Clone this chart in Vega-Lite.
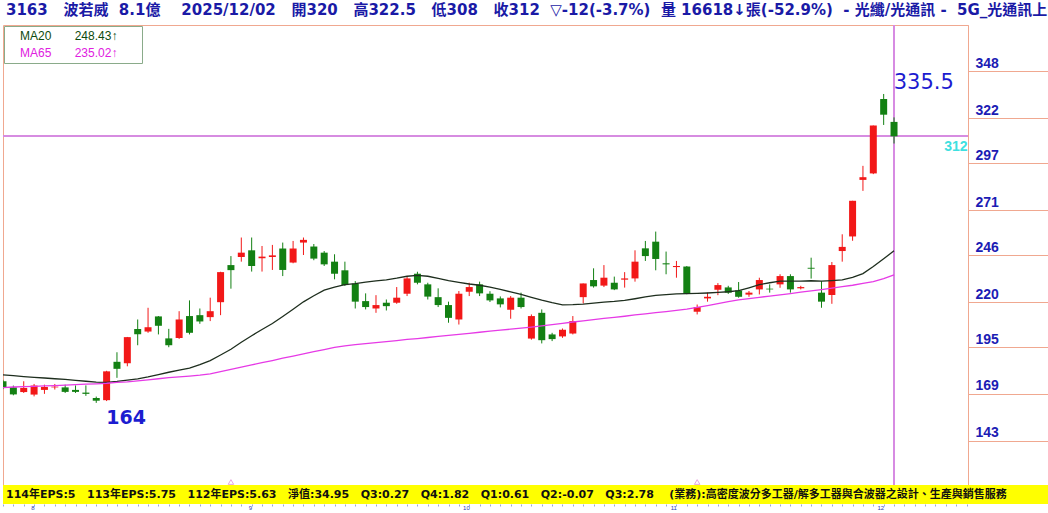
{
  "$schema": "https://vega.github.io/schema/vega-lite/v6.json",
  "background": "white",
  "padding": {"left": 2, "top": 3, "right": 0, "bottom": 0},
  "spacing": 0,
  "bounds": "flush",
  "title": {
    "text": "3163\u00a0\u00a0 波若威\u00a0 8.1億\u00a0\u00a0\u00a0 2025/12/02\u00a0\u00a0 開320\u00a0\u00a0 高322.5\u00a0\u00a0 低308\u00a0\u00a0 收312\u00a0 ▽-12(-3.7%)\u00a0 量\u00a016618↓張(-52.9%)\u00a0 -\u00a0光纖/光通訊\u00a0-\u00a0 5G_光通訊上",
    "anchor": "start",
    "frame": "group",
    "font": "DejaVu Sans, Noto Sans CJK TC",
    "fontSize": 15,
    "fontWeight": "bold",
    "color": "#1a1aa6",
    "offset": 6,
    "dx": 3,
    "limit": 1043
  },
  "datasets": {
    "k": [
      {"d":"2025-07-29","o":176.0,"h":176.8,"l":171.6,"c":172.3,"MA20":179.6,"MA65":172.5},
      {"d":"2025-07-30","o":172.6,"h":173.6,"l":168.2,"c":168.7,"MA20":179.1,"MA65":172.8},
      {"d":"2025-07-31","o":170.0,"h":176.0,"l":169.5,"c":172.3,"MA20":178.6,"MA65":173.0},
      {"d":"2025-08-01","o":168.6,"h":174.5,"l":167.6,"c":173.6,"MA20":178.2,"MA65":173.2},
      {"d":"2025-08-04","o":171.2,"h":174.1,"l":169.0,"c":172.8,"MA20":177.8,"MA65":173.4},
      {"d":"2025-08-05","o":172.6,"h":174.5,"l":171.4,"c":173.0,"MA20":177.4,"MA65":173.6},
      {"d":"2025-08-06","o":172.6,"h":174.1,"l":169.5,"c":170.1,"MA20":177.0,"MA65":173.9},
      {"d":"2025-08-07","o":171.2,"h":173.7,"l":169.5,"c":170.1,"MA20":176.5,"MA65":174.1},
      {"d":"2025-08-08","o":169.7,"h":173.7,"l":167.9,"c":169.0,"MA20":176.0,"MA65":174.4},
      {"d":"2025-08-11","o":166.7,"h":167.5,"l":164.0,"c":165.2,"MA20":175.5,"MA65":174.6},
      {"d":"2025-08-12","o":165.5,"h":181.8,"l":165.0,"c":181.5,"MA20":175.4,"MA65":174.9},
      {"d":"2025-08-13","o":186.8,"h":192.1,"l":177.9,"c":182.9,"MA20":175.9,"MA65":175.4},
      {"d":"2025-08-14","o":186.0,"h":200.6,"l":184.3,"c":200.5,"MA20":176.6,"MA65":175.7},
      {"d":"2025-08-15","o":205.0,"h":210.3,"l":196.0,"c":202.1,"MA20":177.3,"MA65":176.2},
      {"d":"2025-08-18","o":203.6,"h":216.8,"l":202.9,"c":206.0,"MA20":178.4,"MA65":176.8},
      {"d":"2025-08-19","o":212.0,"h":212.2,"l":202.0,"c":206.8,"MA20":179.7,"MA65":177.4},
      {"d":"2025-08-20","o":199.8,"h":205.1,"l":194.9,"c":196.0,"MA20":181.0,"MA65":178.0},
      {"d":"2025-08-21","o":200.0,"h":214.9,"l":199.5,"c":210.3,"MA20":182.2,"MA65":178.4},
      {"d":"2025-08-22","o":212.2,"h":220.9,"l":202.0,"c":202.9,"MA20":183.3,"MA65":178.9},
      {"d":"2025-08-25","o":212.7,"h":216.4,"l":207.9,"c":209.2,"MA20":185.2,"MA65":179.4},
      {"d":"2025-08-26","o":211.6,"h":222.4,"l":209.4,"c":214.9,"MA20":187.5,"MA65":180.1},
      {"d":"2025-08-27","o":219.9,"h":236.8,"l":212.7,"c":236.6,"MA20":190.6,"MA65":181.4},
      {"d":"2025-08-28","o":240.5,"h":245.5,"l":227.4,"c":237.7,"MA20":193.8,"MA65":182.6},
      {"d":"2025-08-29","o":245.0,"h":255.8,"l":242.4,"c":247.4,"MA20":197.7,"MA65":183.8},
      {"d":"2025-09-01","o":248.7,"h":255.8,"l":236.9,"c":240.0,"MA20":201.3,"MA65":185.1},
      {"d":"2025-09-02","o":244.3,"h":251.1,"l":236.9,"c":245.2,"MA20":204.7,"MA65":186.3},
      {"d":"2025-09-03","o":245.0,"h":251.7,"l":237.8,"c":245.9,"MA20":208.1,"MA65":187.5},
      {"d":"2025-09-04","o":249.7,"h":253.0,"l":234.4,"c":237.8,"MA20":212.0,"MA65":188.8},
      {"d":"2025-09-05","o":241.9,"h":253.9,"l":241.5,"c":249.7,"MA20":216.0,"MA65":190.0},
      {"d":"2025-09-08","o":253.0,"h":255.8,"l":246.1,"c":254.5,"MA20":220.1,"MA65":191.2},
      {"d":"2025-09-09","o":250.8,"h":252.2,"l":243.2,"c":244.1,"MA20":223.5,"MA65":192.4},
      {"d":"2025-09-10","o":247.4,"h":248.3,"l":240.0,"c":240.9,"MA20":226.6,"MA65":193.6},
      {"d":"2025-09-11","o":242.4,"h":246.5,"l":232.6,"c":235.7,"MA20":228.3,"MA65":194.8},
      {"d":"2025-09-12","o":237.6,"h":242.4,"l":228.9,"c":229.4,"MA20":229.6,"MA65":195.7},
      {"d":"2025-09-15","o":230.2,"h":231.6,"l":216.4,"c":220.2,"MA20":230.2,"MA65":196.3},
      {"d":"2025-09-16","o":220.5,"h":224.8,"l":215.9,"c":217.2,"MA20":231.0,"MA65":196.9},
      {"d":"2025-09-17","o":216.4,"h":223.8,"l":214.0,"c":218.3,"MA20":231.7,"MA65":197.5},
      {"d":"2025-09-18","o":219.6,"h":221.4,"l":215.3,"c":217.7,"MA20":232.3,"MA65":198.0},
      {"d":"2025-09-19","o":219.6,"h":228.3,"l":219.0,"c":222.4,"MA20":233.2,"MA65":198.6},
      {"d":"2025-09-22","o":224.6,"h":234.4,"l":223.3,"c":233.1,"MA20":234.3,"MA65":199.2},
      {"d":"2025-09-23","o":235.7,"h":236.8,"l":229.8,"c":230.7,"MA20":234.8,"MA65":199.7},
      {"d":"2025-09-24","o":229.8,"h":230.7,"l":221.4,"c":223.0,"MA20":234.3,"MA65":200.3},
      {"d":"2025-09-25","o":222.7,"h":227.6,"l":217.2,"c":218.3,"MA20":233.1,"MA65":200.9},
      {"d":"2025-09-26","o":218.3,"h":220.2,"l":208.5,"c":211.2,"MA20":231.9,"MA65":201.5},
      {"d":"2025-09-30","o":210.3,"h":226.1,"l":207.5,"c":224.6,"MA20":230.9,"MA65":202.0},
      {"d":"2025-10-01","o":225.7,"h":230.7,"l":223.3,"c":228.3,"MA20":230.0,"MA65":202.6},
      {"d":"2025-10-02","o":229.8,"h":231.3,"l":223.3,"c":224.8,"MA20":229.3,"MA65":203.2},
      {"d":"2025-10-03","o":224.6,"h":226.0,"l":220.0,"c":220.9,"MA20":228.3,"MA65":203.8},
      {"d":"2025-10-07","o":222.0,"h":223.1,"l":217.0,"c":218.7,"MA20":227.0,"MA65":204.4},
      {"d":"2025-10-08","o":215.7,"h":223.3,"l":210.7,"c":222.4,"MA20":225.6,"MA65":204.9},
      {"d":"2025-10-09","o":222.4,"h":225.2,"l":216.4,"c":217.2,"MA20":224.2,"MA65":205.5},
      {"d":"2025-10-13","o":199.7,"h":213.1,"l":199.1,"c":212.2,"MA20":222.6,"MA65":206.1},
      {"d":"2025-10-14","o":214.0,"h":215.9,"l":197.0,"c":198.8,"MA20":221.0,"MA65":206.7},
      {"d":"2025-10-15","o":202.0,"h":202.9,"l":198.3,"c":199.4,"MA20":219.6,"MA65":207.4},
      {"d":"2025-10-16","o":200.9,"h":205.3,"l":200.1,"c":204.6,"MA20":218.4,"MA65":208.1},
      {"d":"2025-10-17","o":202.5,"h":212.2,"l":202.0,"c":209.4,"MA20":218.5,"MA65":208.9},
      {"d":"2025-10-20","o":222.7,"h":230.3,"l":219.2,"c":230.3,"MA20":218.8,"MA65":209.5},
      {"d":"2025-10-21","o":232.2,"h":238.7,"l":228.0,"c":228.7,"MA20":219.4,"MA65":210.2},
      {"d":"2025-10-22","o":229.1,"h":240.5,"l":228.3,"c":233.5,"MA20":219.9,"MA65":210.9},
      {"d":"2025-10-23","o":230.7,"h":234.1,"l":226.6,"c":227.0,"MA20":220.3,"MA65":211.5},
      {"d":"2025-10-27","o":232.4,"h":236.6,"l":228.0,"c":233.1,"MA20":220.9,"MA65":212.1},
      {"d":"2025-10-28","o":233.1,"h":248.7,"l":231.3,"c":242.4,"MA20":221.8,"MA65":212.8},
      {"d":"2025-10-29","o":249.8,"h":253.9,"l":242.8,"c":245.5,"MA20":222.8,"MA65":213.4},
      {"d":"2025-10-30","o":253.5,"h":259.1,"l":237.6,"c":243.9,"MA20":223.7,"MA65":214.1},
      {"d":"2025-10-31","o":241.5,"h":248.0,"l":235.4,"c":240.9,"MA20":224.1,"MA65":214.7},
      {"d":"2025-11-03","o":239.4,"h":242.8,"l":233.5,"c":240.0,"MA20":224.5,"MA65":215.4},
      {"d":"2025-11-04","o":239.7,"h":240.0,"l":224.3,"c":224.6,"MA20":224.7,"MA65":216.0},
      {"d":"2025-11-05","o":214.6,"h":218.6,"l":213.1,"c":217.2,"MA20":224.8,"MA65":217.0},
      {"d":"2025-11-06","o":222.0,"h":225.2,"l":220.2,"c":222.9,"MA20":225.0,"MA65":218.0},
      {"d":"2025-11-07","o":226.8,"h":230.5,"l":223.8,"c":229.4,"MA20":225.3,"MA65":219.1},
      {"d":"2025-11-10","o":228.1,"h":229.0,"l":224.5,"c":225.2,"MA20":225.7,"MA65":220.2},
      {"d":"2025-11-11","o":226.4,"h":231.1,"l":222.4,"c":222.9,"MA20":226.3,"MA65":221.2},
      {"d":"2025-11-12","o":224.1,"h":226.1,"l":222.9,"c":225.2,"MA20":227.9,"MA65":221.9},
      {"d":"2025-11-13","o":227.0,"h":233.5,"l":224.2,"c":232.2,"MA20":229.6,"MA65":222.6},
      {"d":"2025-11-14","o":227.4,"h":229.8,"l":225.2,"c":227.0,"MA20":230.7,"MA65":223.3},
      {"d":"2025-11-17","o":229.8,"h":235.4,"l":227.9,"c":234.4,"MA20":231.6,"MA65":224.0},
      {"d":"2025-11-18","o":234.4,"h":235.4,"l":225.2,"c":227.0,"MA20":231.6,"MA65":224.7},
      {"d":"2025-11-19","o":227.6,"h":229.0,"l":227.0,"c":228.3,"MA20":231.6,"MA65":225.5},
      {"d":"2025-11-20","o":239.0,"h":244.6,"l":233.0,"c":238.5,"MA20":231.8,"MA65":226.2},
      {"d":"2025-11-21","o":225.2,"h":231.6,"l":216.8,"c":220.2,"MA20":231.6,"MA65":226.9},
      {"d":"2025-11-24","o":223.9,"h":242.2,"l":219.0,"c":240.5,"MA20":231.9,"MA65":227.7},
      {"d":"2025-11-25","o":248.3,"h":257.6,"l":242.4,"c":250.6,"MA20":232.3,"MA65":228.5},
      {"d":"2025-11-26","o":256.4,"h":276.2,"l":254.0,"c":276.2,"MA20":233.7,"MA65":229.3},
      {"d":"2025-11-27","o":287.8,"h":295.6,"l":281.7,"c":289.3,"MA20":235.8,"MA65":230.3},
      {"d":"2025-11-28","o":291.4,"h":318.0,"l":291.0,"c":318.0,"MA20":239.7,"MA65":231.3},
      {"d":"2025-12-01","o":332.7,"h":335.5,"l":318.3,"c":324.0,"MA20":244.0,"MA65":233.0},
      {"d":"2025-12-02","o":320.0,"h":322.5,"l":308.0,"c":312.0,"MA20":248.43,"MA65":235.02}
    ],
    "ev": [
      {"d": "2025-08-28"},
      {"d": "2025-11-05"}
    ],
    "foot": [{"t": "x"}]
  },
  "vconcat": [
    {
      "width": 965,
      "height": 460,
      "view": {"stroke": "#f0a890", "strokeWidth": 1},
      "layer": [
        {
          "data": {"name": "k"},
          "mark": {"type": "rule", "color": "#d68ce2", "strokeWidth": 1},
          "encoding": {
            "y": {"datum": 312, "type": "quantitative",
              "scale": {"domain": [118.4, 373.8], "nice": false, "zero": false},
              "title": null,
              "axis": {
                "orient": "right",
                "values": [143, 169, 195, 220, 246, 271, 297, 312, 322, 348],
                "title": null,
                "grid": false,
                "domain": true,
                "domainColor": "#f0a890",
                "tickSize": 80,
                "tickColor": {"condition": {"test": "datum.value == 312", "value": "rgba(0,0,0,0)"}, "value": "#f0a890"},
                "labelFont": "Liberation Sans",
                "labelFontSize": 14,
                "labelFontWeight": "bold",
                "labelColor": {"condition": {"test": "datum.value == 312", "value": "#3ee0e0"}, "value": "#1c1cb4"},
                "labelAlign": {"condition": {"test": "datum.value == 312", "value": "right"}, "value": "left"},
                "labelBaseline": {"condition": {"test": "datum.value == 312", "value": "top"}, "value": "alphabetic"},
                "labelPadding": {"condition": {"test": "datum.value == 312", "value": -81}, "value": -73},
                "labelOffset": {"condition": {"test": "datum.value == 312", "value": 3}, "value": -4},
                "labelOverlap": false,
                "labelBound": false,
                "labelFlush": false
              }
            }
          }
        },
        {
          "data": {"name": "k"},
          "mark": {"type": "rule", "color": "#d68ce2", "strokeWidth": 1},
          "encoding": {
            "x": {"datum": "2025-12-02", "type": "ordinal"}
          }
        },
        {
          "data": {"name": "k"},
          "mark": {"type": "rule", "strokeWidth": 1, "clip": true},
          "encoding": {
            "x": {"field": "d", "type": "ordinal",
              "scale": {"type": "point", "padding": 0.07, "align": 0,
                "domain": ["2025-07-29","2025-07-30","2025-07-31","2025-08-01","2025-08-04","2025-08-05","2025-08-06","2025-08-07","2025-08-08","2025-08-11","2025-08-12","2025-08-13","2025-08-14","2025-08-15","2025-08-18","2025-08-19","2025-08-20","2025-08-21","2025-08-22","2025-08-25","2025-08-26","2025-08-27","2025-08-28","2025-08-29","2025-09-01","2025-09-02","2025-09-03","2025-09-04","2025-09-05","2025-09-08","2025-09-09","2025-09-10","2025-09-11","2025-09-12","2025-09-15","2025-09-16","2025-09-17","2025-09-18","2025-09-19","2025-09-22","2025-09-23","2025-09-24","2025-09-25","2025-09-26","2025-09-30","2025-10-01","2025-10-02","2025-10-03","2025-10-07","2025-10-08","2025-10-09","2025-10-13","2025-10-14","2025-10-15","2025-10-16","2025-10-17","2025-10-20","2025-10-21","2025-10-22","2025-10-23","2025-10-27","2025-10-28","2025-10-29","2025-10-30","2025-10-31","2025-11-03","2025-11-04","2025-11-05","2025-11-06","2025-11-07","2025-11-10","2025-11-11","2025-11-12","2025-11-13","2025-11-14","2025-11-17","2025-11-18","2025-11-19","2025-11-20","2025-11-21","2025-11-24","2025-11-25","2025-11-26","2025-11-27","2025-11-28","2025-12-01","2025-12-02","2025-12-03","2025-12-04","2025-12-05","2025-12-08","2025-12-09","2025-12-10","2025-12-11"]
              },
              "axis": {
                "orient": "bottom",
                "offset": 19,
                "title": null,
                "domain": false,
                "grid": false,
                "ticks": true,
                "tickSize": 2,
                "tickColor": "#9aa6d6",
                "labelFont": "Liberation Sans",
                "labelFontSize": 6,
                "labelColor": "#2a3ab0",
                "labelPadding": 1,
                "labelAngle": 0,
                "labelOverlap": false,
                "labelExpr": "indexof(['2025-08-01','2025-09-01','2025-10-01','2025-11-03','2025-12-01'], datum.value) >= 0 ? '' + toNumber(substring(datum.value, 5, 7)) : ''"
              }
            },
            "y": {"field": "l", "type": "quantitative", "title": null},
            "y2": {"field": "h"},
            "color": {"condition": {"test": "datum.c >= datum.o", "value": "#f21818"}, "value": "#138013"}
          }
        },
        {
          "data": {"name": "k"},
          "mark": {"type": "bar", "width": 7, "clip": true},
          "encoding": {
            "x": {"field": "d", "type": "ordinal"},
            "y": {"field": "o", "type": "quantitative", "title": null},
            "y2": {"field": "c"},
            "color": {"condition": {"test": "datum.c >= datum.o", "value": "#f21818"}, "value": "#138013"}
          }
        },
        {
          "data": {"name": "k"},
          "transform": [{"fold": ["MA20", "MA65"], "as": ["key", "ma"]}],
          "mark": {"type": "line", "strokeWidth": 1.3, "clip": true},
          "encoding": {
            "x": {"field": "d", "type": "ordinal"},
            "y": {"field": "ma", "type": "quantitative", "title": null},
            "color": {
              "field": "key", "type": "nominal",
              "scale": {"domain": ["MA20", "MA65"], "range": ["#1e2e1e", "#e63ae6"]},
              "legend": {
                "orient": "top-left",
                "offset": 1,
                "title": null,
                "padding": 4,
                "rowPadding": 5,
                "strokeColor": "#8aab8a",
                "fillColor": "white",
                "symbolType": "stroke",
                "symbolSize": 0,
                "symbolStrokeWidth": 0,
                "labelOffset": 0,
                "labelLimit": 300,
                "labelFont": "Liberation Sans",
                "labelFontSize": 12,
                "labelColor": {"expr": "datum.label == 'MA20' ? '#0e4a0e' : '#e020e0'"},
                "labelExpr": "datum.label == 'MA20' ? 'MA20\u00a0\u00a0\u00a0\u00a0\u00a0\u00a0\u00a0248.43↑\u00a0\u00a0\u00a0\u00a0\u00a0\u00a0\u200b' : 'MA65\u00a0\u00a0\u00a0\u00a0\u00a0\u00a0\u00a0235.02↑\u00a0\u00a0\u00a0\u00a0\u00a0\u00a0\u200b'"
              }
            }
          }
        },
        {
          "data": {"name": "k"},
          "transform": [{"filter": "datum.h >= 335.5"}],
          "mark": {"type": "text", "align": "left", "baseline": "alphabetic", "dx": 10, "dy": -5, "font": "DejaVu Sans", "fontSize": 21, "color": "#1c1cd0"},
          "encoding": {
            "x": {"field": "d", "type": "ordinal"},
            "y": {"field": "h", "type": "quantitative", "title": null},
            "text": {"field": "h", "type": "quantitative"}
          }
        },
        {
          "data": {"name": "k"},
          "transform": [{"filter": "datum.l <= 164"}],
          "mark": {"type": "text", "align": "left", "baseline": "top", "dx": 10, "dy": 6, "font": "DejaVu Sans", "fontSize": 19, "fontWeight": "bold", "color": "#1c1cd0"},
          "encoding": {
            "x": {"field": "d", "type": "ordinal"},
            "y": {"field": "l", "type": "quantitative", "title": null},
            "text": {"field": "l", "type": "quantitative"}
          }
        },
        {
          "data": {"name": "ev"},
          "mark": {"type": "point", "shape": "triangle-up", "filled": false, "color": "#dc80d0", "size": 30, "strokeWidth": 1, "yOffset": -3, "clip": true},
          "encoding": {
            "x": {"field": "d", "type": "ordinal"},
            "y": {"datum": 118.4, "type": "quantitative"}
          }
        }
      ]
    },
    {
      "width": 1046,
      "height": 19,
      "data": {"name": "foot"},
      "mark": {"type": "rect", "color": "#ffff00"},
      "title": {
        "text": "114年EPS:5\u00a0\u00a0 113年EPS:5.75\u00a0\u00a0 112年EPS:5.63\u00a0\u00a0 淨值:34.95\u00a0\u00a0 Q3:0.27\u00a0\u00a0 Q4:1.82\u00a0\u00a0 Q1:0.61\u00a0\u00a0 Q2:-0.07\u00a0\u00a0 Q3:2.78\u00a0\u00a0\u00a0 (業務):高密度波分多工器/解多工器與合波器之設計、生產與銷售服務",
        "orient": "bottom",
        "anchor": "start",
        "frame": "group",
        "offset": -15,
        "baseline": "top",
        "dx": 3,
        "font": "DejaVu Sans, Noto Sans CJK TC",
        "fontSize": 11,
        "fontWeight": "bold",
        "color": "#111111",
        "limit": 1040
      }
    }
  ],
  "config": {"view": {"stroke": null}}
}
